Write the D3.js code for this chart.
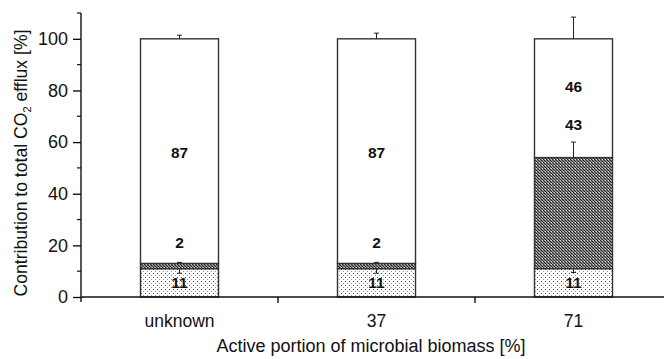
<!DOCTYPE html>
<html>
<head>
<meta charset="utf-8">
<script src="https://cdn.jsdelivr.net/npm/d3@7"></script>
<style>
  body { margin: 0; background: #fff; }
  text { font-family: "Liberation Sans", Arial, sans-serif; }
</style>
</head>
<body>
<div id="viz"></div>
<script>
// data
const categories = ['unknown', '37', '71'];
const bottomVals = [11, 11, 11];   // dotted segment
const middleVals = [2, 2, 43];     // dark hatched segment
const topVals = [87, 87, 46];      // white segment
const bottomErr = [1.8, 1.8, 1.5]; // drawn downward
const middleErr = [0.4, 0.4, 6];   // drawn upward
const topErr = [1.4, 2.2, 8.4];    // drawn upward
// where the numbers sit inside the bars (in % units)
const topLabelAt = [56, 56, 81.5];
const midLabelAt = [21, 21, 67];
const yTicks = [0, 20, 40, 60, 80, 100];

const width = 664, height = 359;
const svg = d3.select('#viz')
  .append('svg')
  .attr('width', width)
  .attr('height', height);

// patterns for the two filled segments
const defs = svg.append('defs');
const dots = defs.append('pattern')
  .attr('id', 'dots')
  .attr('patternUnits', 'userSpaceOnUse')
  .attr('width', 4).attr('height', 4);
dots.append('rect').attr('width', 4).attr('height', 4).attr('fill', '#fff');
dots.append('rect').attr('x', 1).attr('y', 1).attr('width', 1).attr('height', 1).attr('fill', '#555');
dots.append('rect').attr('x', 3).attr('y', 3).attr('width', 1).attr('height', 1).attr('fill', '#999');

const hatch = defs.append('pattern')
  .attr('id', 'hatch')
  .attr('patternUnits', 'userSpaceOnUse')
  .attr('width', 3).attr('height', 3);
hatch.append('rect').attr('width', 3).attr('height', 3).attr('fill', '#8a8a8a');
hatch.append('rect').attr('x', 0).attr('y', 0).attr('width', 1).attr('height', 1).attr('fill', '#222');
hatch.append('rect').attr('x', 1).attr('y', 1).attr('width', 1).attr('height', 1).attr('fill', '#222');
hatch.append('rect').attr('x', 2).attr('y', 2).attr('width', 1).attr('height', 1).attr('fill', '#222');
hatch.append('rect').attr('x', 2).attr('y', 0).attr('width', 1).attr('height', 1).attr('fill', '#ddd');

// scales
const x = d3.scaleBand()
  .domain(categories)
  .range([81, 672])
  .paddingInner(0.604)
  .paddingOuter(0.302);

const y = d3.scaleLinear()
  .domain([0, 110])
  .range([297, 13]);

const rows = categories.map((c, i) => ({
  cat: c,
  b: bottomVals[i], m: middleVals[i], t: topVals[i],
  be: bottomErr[i], me: middleErr[i], te: topErr[i],
  tl: topLabelAt[i], ml: midLabelAt[i]
}));

// stacked bars
const segs = [
  { key: 'b', fill: 'url(#dots)', base: d => 0 },
  { key: 'm', fill: 'url(#hatch)', base: d => d.b },
  { key: 't', fill: '#fff', base: d => d.b + d.m }
];
segs.forEach(s => {
  svg.selectAll('rect.seg-' + s.key)
    .data(rows)
    .enter()
    .append('rect')
    .attr('class', 'seg-' + s.key)
    .attr('x', d => x(d.cat))
    .attr('width', x.bandwidth())
    .attr('y', d => y(s.base(d) + d[s.key]))
    .attr('height', d => y(s.base(d)) - y(s.base(d) + d[s.key]))
    .attr('fill', s.fill)
    .attr('stroke', '#333')
    .attr('stroke-width', 1.4);
});

// error bars
const errs = [
  { v: d => d.b, e: d => -d.be },
  { v: d => d.b + d.m, e: d => d.me },
  { v: d => d.b + d.m + d.t, e: d => d.te }
];
errs.forEach(er => {
  const g = svg.append('g').attr('stroke', '#222').attr('stroke-width', 1);
  g.selectAll('line.w')
    .data(rows)
    .enter()
    .append('line')
    .attr('x1', d => x(d.cat) + x.bandwidth() / 2)
    .attr('x2', d => x(d.cat) + x.bandwidth() / 2)
    .attr('y1', d => y(er.v(d)))
    .attr('y2', d => y(er.v(d) + er.e(d)));
  g.selectAll('line.c')
    .data(rows)
    .enter()
    .append('line')
    .attr('x1', d => x(d.cat) + x.bandwidth() / 2 - 2.5)
    .attr('x2', d => x(d.cat) + x.bandwidth() / 2 + 2.5)
    .attr('y1', d => y(er.v(d) + er.e(d)))
    .attr('y2', d => y(er.v(d) + er.e(d)));
});

// value labels
const lab = (val, pos) => svg.selectAll(null)
  .data(rows)
  .enter()
  .append('text')
  .attr('x', d => x(d.cat) + x.bandwidth() / 2)
  .attr('y', d => y(pos(d)))
  .attr('dy', '0.36em')
  .attr('text-anchor', 'middle')
  .attr('font-size', 15.5)
  .attr('font-weight', 'bold')
  .attr('fill', '#111')
  .text(val);
lab(d => d.b, d => d.b / 2);
lab(d => d.m, d => d.ml);
lab(d => d.t, d => d.tl);

// y axis
const yAxis = d3.axisLeft(y)
  .tickValues(yTicks)
  .tickSize(8)
  .tickPadding(5);
const yg = svg.append('g')
  .attr('transform', 'translate(81,0)')
  .call(yAxis);
yg.select('.domain').remove();
yg.selectAll('.tick line').attr('stroke-width', 1.3);
yg.selectAll('.tick text')
  .attr('font-size', 18)
  .attr('font-family', '"Liberation Sans", Arial, sans-serif')
  .attr('fill', '#111');
yg.append('line')
  .attr('x1', 0).attr('x2', 0)
  .attr('y1', y(110)).attr('y2', y(0) + 5)
  .attr('stroke', '#111').attr('stroke-width', 1.4);
// minor ticks
yg.selectAll('line.minor')
  .data(d3.range(10, 111, 20))
  .enter()
  .append('line')
  .attr('x1', -4).attr('x2', 0)
  .attr('y1', d => y(d)).attr('y2', d => y(d))
  .attr('stroke', '#111').attr('stroke-width', 1.2);

// x axis
const xg = svg.append('g');
xg.append('line')
  .attr('x1', 81).attr('x2', width)
  .attr('y1', y(0)).attr('y2', y(0))
  .attr('stroke', '#111').attr('stroke-width', 1.5);
xg.selectAll('line.sep')
  .data(categories.slice(1))
  .enter()
  .append('line')
  .attr('x1', d => x(d) - x.step() * x.paddingInner() / 2)
  .attr('x2', d => x(d) - x.step() * x.paddingInner() / 2)
  .attr('y1', y(0)).attr('y2', y(0) + 6)
  .attr('stroke', '#111').attr('stroke-width', 1.4);
xg.selectAll('text')
  .data(categories)
  .enter()
  .append('text')
  .attr('x', d => x(d) + x.bandwidth() / 2)
  .attr('y', 327)
  .attr('text-anchor', 'middle')
  .attr('font-size', 17.5)
  .attr('fill', '#111')
  .text(d => d);

// axis titles
svg.append('text')
  .attr('x', 371)
  .attr('y', 352)
  .attr('text-anchor', 'middle')
  .attr('font-size', 18)
  .attr('fill', '#111')
  .text('Active portion of microbial biomass [%]');

const yt = svg.append('text')
  .attr('transform', 'translate(27,163) rotate(-90)')
  .attr('text-anchor', 'middle')
  .attr('font-size', 17.6)
  .attr('fill', '#111');
yt.append('tspan').text('Contribution to total CO');
yt.append('tspan').attr('font-size', 11).attr('dy', 4).text('2');
yt.append('tspan').attr('dy', -4).text(' efflux [%]');
</script>
</body>
</html>
